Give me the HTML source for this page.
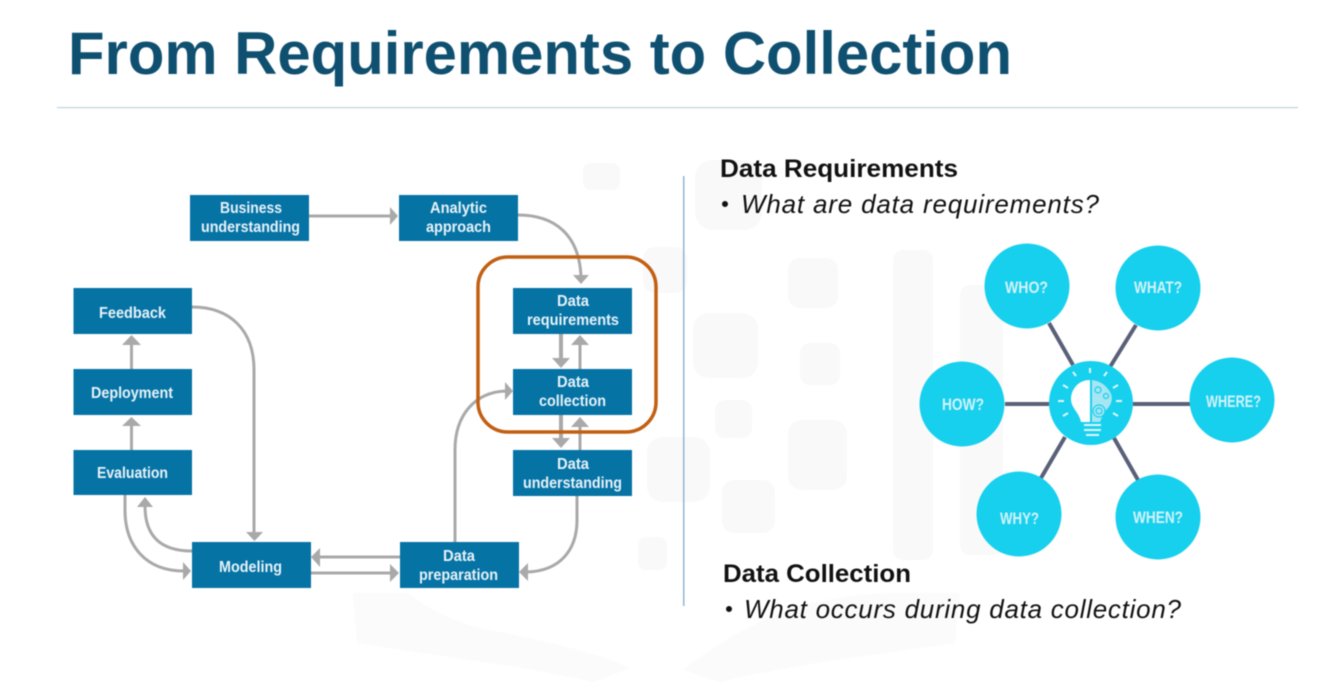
<!DOCTYPE html>
<html lang="en">
<head>
<meta charset="utf-8">
<title>From Requirements to Collection</title>
<style>
html,body{margin:0;padding:0;background:#fff;width:1331px;height:692px;overflow:hidden}
svg{display:block;filter:blur(.45px)}
.b{font-family:"Liberation Sans",sans-serif;font-weight:700;font-size:16px;fill:#e6f2f8;text-anchor:middle}
.c{font-family:"Liberation Sans",sans-serif;font-weight:700;font-size:17px;fill:#d4f2f9;text-anchor:middle}
.h{font-family:"Liberation Sans",sans-serif;font-weight:700;font-size:25px;fill:#111}
.i{font-family:"Liberation Sans",sans-serif;font-style:italic;font-size:26px;fill:#111}
</style>
</head>
<body>
<svg width="1331" height="692" viewBox="0 0 1331 692" xmlns="http://www.w3.org/2000/svg">
<rect width="1331" height="692" fill="#fff"/>

<!-- watermark -->
<g fill="#f9f9f9">
<rect x="583" y="163" width="37" height="27" rx="8"/>
<rect x="695" y="160" width="67" height="70" rx="18"/>
<rect x="643" y="247" width="44" height="46" rx="12"/>
<rect x="788" y="258" width="50" height="50" rx="12"/>
<rect x="693" y="313" width="65" height="65" rx="16"/>
<rect x="800" y="343" width="40" height="42" rx="10"/>
<rect x="715" y="400" width="37" height="38" rx="10"/>
<rect x="788" y="420" width="59" height="70" rx="14"/>
<rect x="647" y="437" width="63" height="65" rx="16"/>
<rect x="722" y="480" width="53" height="53" rx="12"/>
<rect x="638" y="537" width="29" height="33" rx="8"/>
<rect x="893" y="250" width="40" height="310" rx="10"/>
<rect x="960" y="285" width="43" height="270" rx="10"/>
</g>
<g fill="#fbfbfb">
<path d="M353 593H407C430 610 450 620 480 628C540 640 590 650 630 668L593 682C520 665 430 655 357 643Z"/>
<path d="M683 670C720 640 760 620 800 606C840 596 870 593 900 593H960L955 643C870 655 790 665 720 682Z"/>
</g>

<!-- title -->
<text x="68" y="74" font-family="'Liberation Sans',sans-serif" font-weight="700" font-size="60" fill="#0f5070" textLength="944" lengthAdjust="spacingAndGlyphs">From Requirements to Collection</text>
<rect x="57" y="107" width="1241" height="1.200" fill="#bcd3e0"/>

<!-- connectors -->
<g fill="none" stroke="#a9a9a9" stroke-width="3">
<path d="M309 216H391"/>
<path d="M518 215C555 215 579 235 581 276"/>
<path d="M192 307C230 307 254 330 254 370V533"/>
<path d="M131.500 369V344"/>
<path d="M131.500 450V425"/>
<path d="M125 495V510C125 545 145 571 184 571"/>
<path d="M192 551C165 551 145 540 145 506"/>
<path d="M400 557H320"/>
<path d="M311 573H390"/>
<path d="M455 542V450C455 415 475 392 506 391"/>
<path d="M577 496V520C577 550 560 571 527 572"/>
<path d="M561 334V359" stroke-width="4"/>
<path d="M580 369V344"/>
<path d="M561 415V439" stroke-width="4"/>
<path d="M580 450V426"/>
</g>
<g fill="#a9a9a9">
<path d="M398 216L390 207V225Z"/>
<path d="M581 284L573 275H589Z"/>
<path d="M254.500 541L246 532H263Z"/>
<path d="M131.500 335L122 345H141Z"/>
<path d="M131.500 417L122 426H141Z"/>
<path d="M191 571L183 562V580Z"/>
<path d="M145 497L137 507H153Z"/>
<path d="M311 557L320 548V567Z"/>
<path d="M399 573L390 564V582Z"/>
<path d="M513 391L505 382V400Z"/>
<path d="M519 572L528 563V581Z"/>
<path d="M561 368L552 358H570Z"/>
<path d="M580 335L571 345H589Z"/>
<path d="M561 448L552 438H570Z"/>
<path d="M580 417L571 427H589Z"/>
</g>

<!-- boxes -->
<g fill="#0673a5">
<rect x="190" y="195" width="119" height="46"/>
<rect x="399" y="195" width="119" height="46"/>
<rect x="73.500" y="288" width="118.500" height="46"/>
<rect x="73.500" y="369" width="118.500" height="46"/>
<rect x="73.500" y="450" width="118.500" height="45"/>
<rect x="192" y="542" width="119" height="46"/>
<rect x="400" y="542" width="119" height="46"/>
<rect x="513" y="288" width="119" height="46"/>
<rect x="513" y="369" width="119" height="46"/>
<rect x="513" y="450" width="119" height="46"/>
</g>

<!-- orange highlight -->
<rect x="478" y="257" width="178" height="175" rx="30" fill="none" stroke="#c25f12" stroke-width="3.500"/>

<!-- box labels -->
<text class="b" x="251" y="213" textLength="62" lengthAdjust="spacingAndGlyphs">Business</text>
<text class="b" x="250.500" y="232" textLength="99" lengthAdjust="spacingAndGlyphs">understanding</text>
<text class="b" x="458.500" y="213" textLength="57" lengthAdjust="spacingAndGlyphs">Analytic</text>
<text class="b" x="458.500" y="232" textLength="65" lengthAdjust="spacingAndGlyphs">approach</text>
<text class="b" x="132.500" y="318" textLength="67" lengthAdjust="spacingAndGlyphs">Feedback</text>
<text class="b" x="132" y="398" textLength="82" lengthAdjust="spacingAndGlyphs">Deployment</text>
<text class="b" x="132.500" y="478" textLength="71" lengthAdjust="spacingAndGlyphs">Evaluation</text>
<text class="b" x="250.500" y="572" textLength="63" lengthAdjust="spacingAndGlyphs">Modeling</text>
<text class="b" x="459" y="561" textLength="32" lengthAdjust="spacingAndGlyphs">Data</text>
<text class="b" x="458.500" y="580" textLength="79" lengthAdjust="spacingAndGlyphs">preparation</text>
<text class="b" x="573" y="306" textLength="32" lengthAdjust="spacingAndGlyphs">Data</text>
<text class="b" x="573" y="325" textLength="92" lengthAdjust="spacingAndGlyphs">requirements</text>
<text class="b" x="573" y="387" textLength="32" lengthAdjust="spacingAndGlyphs">Data</text>
<text class="b" x="572.500" y="406" textLength="67" lengthAdjust="spacingAndGlyphs">collection</text>
<text class="b" x="573" y="469" textLength="32" lengthAdjust="spacingAndGlyphs">Data</text>
<text class="b" x="572.500" y="488" textLength="99" lengthAdjust="spacingAndGlyphs">understanding</text>

<!-- divider -->
<rect x="683" y="176" width="1.500" height="430" fill="#8fb6d6"/>

<!-- right text -->
<text class="h" x="720" y="177" textLength="238" lengthAdjust="spacingAndGlyphs">Data Requirements</text>
<circle cx="725" cy="204" r="3" fill="#111"/>
<text class="i" x="741" y="213" textLength="358" lengthAdjust="spacing">What are data requirements?</text>
<text class="h" x="723" y="582" textLength="188" lengthAdjust="spacingAndGlyphs">Data Collection</text>
<circle cx="729" cy="609" r="3" fill="#111"/>
<text class="i" x="744" y="618" textLength="437" lengthAdjust="spacing">What occurs during data collection?</text>

<!-- hub and spoke -->
<g stroke="#596078" stroke-width="4" fill="none">
<path d="M1049 323L1073 365"/>
<path d="M1136 325L1110 367"/>
<path d="M1133 404H1190"/>
<path d="M1005 404H1049"/>
<path d="M1065 437L1041 478"/>
<path d="M1114 438L1138 480"/>
</g>
<g fill="#17d0ee">
<circle cx="1027" cy="286" r="42.500"/>
<circle cx="1158" cy="288" r="42.500"/>
<circle cx="1232" cy="400" r="42.500"/>
<circle cx="962" cy="404" r="42.500"/>
<circle cx="1019" cy="514" r="42.500"/>
<circle cx="1158" cy="517" r="42.500"/>
<circle cx="1091" cy="403" r="42"/>
</g>
<text class="c" x="1026.500" y="293" textLength="43" lengthAdjust="spacingAndGlyphs">WHO?</text>
<text class="c" x="1158" y="293" textLength="48" lengthAdjust="spacingAndGlyphs">WHAT?</text>
<text class="c" x="1233.500" y="407" textLength="55" lengthAdjust="spacingAndGlyphs">WHERE?</text>
<text class="c" x="963" y="410" textLength="42" lengthAdjust="spacingAndGlyphs">HOW?</text>
<text class="c" x="1019.500" y="524" textLength="39" lengthAdjust="spacingAndGlyphs">WHY?</text>
<text class="c" x="1158" y="523" textLength="50" lengthAdjust="spacingAndGlyphs">WHEN?</text>

<!-- bulb icon -->
<path d="M1090 380C1077 380 1071 391 1071 399C1071 408 1079 412 1081 422H1090Z" fill="#fff"/>
<path d="M1092 380C1100 381 1106 385 1110 392C1114 398 1111 406 1106 410C1103 415 1101 419 1100 422H1092Z" fill="#a6e5f2"/>
<g stroke="#dff6fb" stroke-width="2" fill="none">
<path d="M1084 425H1101M1084 430H1101M1086 435H1099"/>
<path d="M1090 368V373M1073 372L1076 376M1107 372L1104 376M1063 385L1068 388M1118 385L1113 388M1058 401H1064M1116 401H1122M1063 416L1068 413M1118 416L1113 413"/>
</g>
<g fill="none" stroke="#17d0ee" stroke-width="1.200">
<circle cx="1098" cy="390" r="3"/>
<circle cx="1106" cy="396" r="2.500"/>
<circle cx="1099" cy="411" r="6"/>
<circle cx="1099" cy="411" r="3"/>
</g>
</svg>
</body>
</html>
